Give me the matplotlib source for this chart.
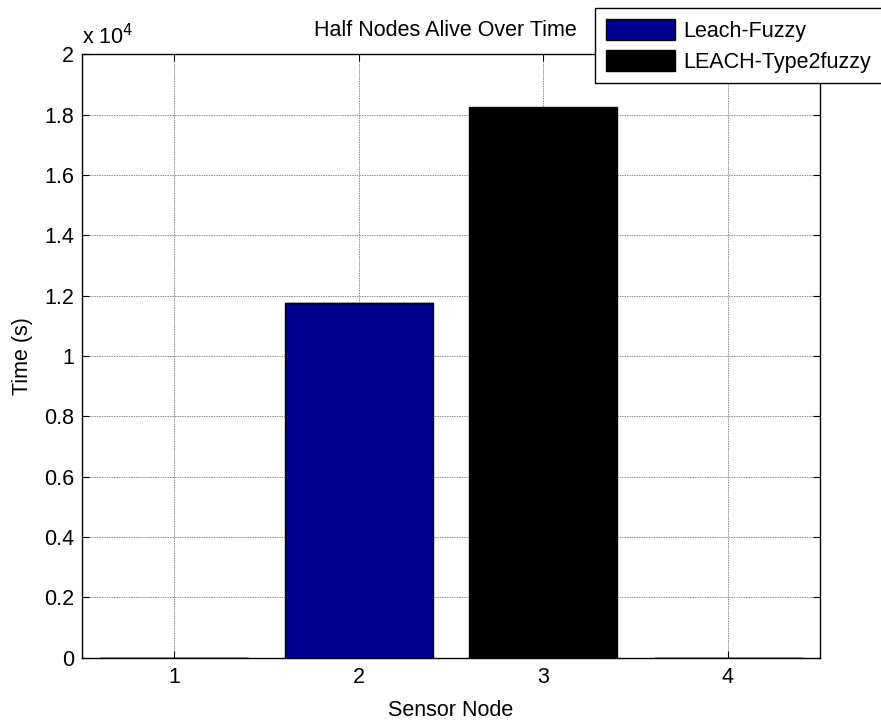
import matplotlib
matplotlib.use("Agg")
import matplotlib.pyplot as plt
from matplotlib.ticker import FuncFormatter
import numpy as np

plt.rcParams['font.family'] = ['Liberation Sans', 'DejaVu Sans']

categories = [1, 2, 3, 4]
leach_fuzzy = [0, 11770, 0, 0]
leach_type2fuzzy = [0, 0, 18240, 0]
series_labels = ['Leach-Fuzzy', 'LEACH-Type2fuzzy']
series_colors = ['#00008F', '#000000']
title = 'Half Nodes Alive Over Time'
xlabel = 'Sensor Node'
ylabel = 'Time (s)'

W, H = 881, 722
fig = plt.figure(figsize=(W / 100, H / 100), dpi=100)
ax = fig.add_axes([82 / W, 1 - 657.7 / H, (820 - 82) / W, (657.7 - 54.3) / H])

fs = 15.5
b1 = ax.bar(categories, leach_fuzzy, width=0.8, color=series_colors[0],
            edgecolor='black', linewidth=1.0, label=series_labels[0], zorder=3)
b2 = ax.bar(categories, leach_type2fuzzy, width=0.8, bottom=leach_fuzzy,
            color=series_colors[1], edgecolor='black', linewidth=1.0,
            label=series_labels[1], zorder=3)

ax.set_xlim(0.5, 4.5)
ax.set_ylim(0, 20000)
ax.set_xticks(categories)
ax.set_yticks(np.arange(0, 20001, 2000))
ax.yaxis.set_major_formatter(FuncFormatter(lambda v, p: '%g' % (v / 1e4)))
ax.tick_params(direction='in', top=True, right=True, length=5, width=0.8,
               labelsize=fs, colors='black')
ax.tick_params(axis='x', pad=7)
ax.tick_params(axis='y', pad=5.5)
ax.grid(True, color='#8c8c8c', linestyle=(0, (1.5, 1)), linewidth=0.7, zorder=1)
ax.set_axisbelow(True)
for s in ax.spines.values():
    s.set_linewidth(1.0)
    s.set_color('black')
    s.set_zorder(5)

ax.set_xlabel(xlabel, fontsize=fs, labelpad=8)
ax.set_ylabel(ylabel, fontsize=fs, labelpad=8)

fig.text(445 / W, 1 - 30 / H, title, fontsize=fs, ha='center', va='center')
fig.text(82 / W, 1 - 37 / H, 'x 10$^{4}$', fontsize=fs, ha='left', va='center')

leg = fig.legend(handles=[b1, b2], labels=series_labels, loc='upper left',
                 bbox_to_anchor=(595 / W, 1 - 8 / H), fontsize=fs,
                 frameon=True, fancybox=False, shadow=False, framealpha=1,
                 edgecolor='black', handlelength=3.2, handleheight=1.15,
                 handletextpad=0.4, labelspacing=0.37, borderpad=0.5,
                 borderaxespad=0)
leg.get_frame().set_linewidth(1.0)

fig.savefig('out.png', dpi=100)
